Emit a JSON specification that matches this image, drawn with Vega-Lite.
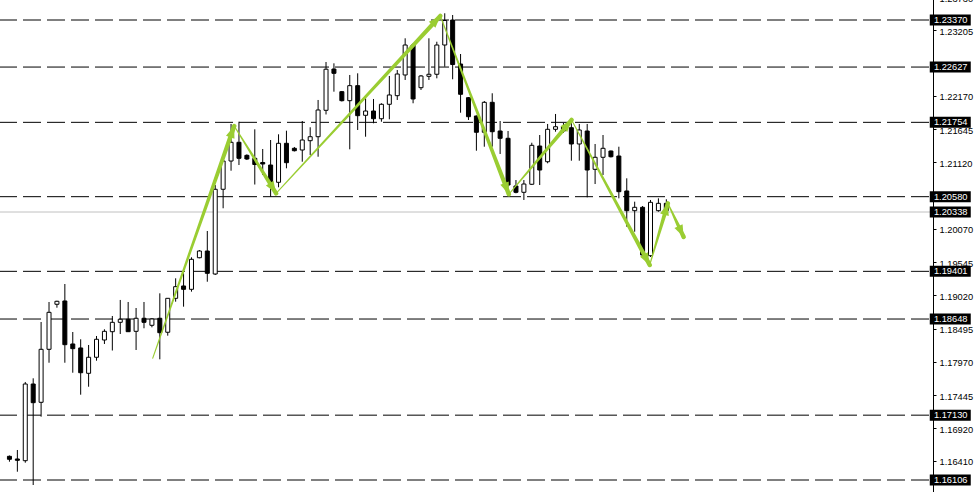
{
  "$schema": "https://vega.github.io/schema/vega-lite/v6.json",
  "width": 933,
  "height": 504,
  "autosize": {"type": "none"},
  "padding": {"left": 0, "top": -6, "right": 47, "bottom": 0},
  "background": "white",
  "config": {"view": {"stroke": null}},
  "datasets": {
    "levels": [
      {"level": 1.2337, "type": "line"},
      {"level": 1.22627, "type": "line"},
      {"level": 1.21754, "type": "line"},
      {"level": 1.2058, "type": "line"},
      {"level": 1.20338, "type": "bid"},
      {"level": 1.19401, "type": "line"},
      {"level": 1.18648, "type": "line"},
      {"level": 1.1713, "type": "line"},
      {"level": 1.16106, "type": "line"}
    ],
    "candles": [
      {"i": 0, "o": 1.16480, "h": 1.16493, "l": 1.16395, "c": 1.16433},
      {"i": 1, "o": 1.16438, "h": 1.16580, "l": 1.16237, "c": 1.16417},
      {"i": 2, "o": 1.16411, "h": 1.17654, "l": 1.16379, "c": 1.17622},
      {"i": 3, "o": 1.17622, "h": 1.17712, "l": 1.16027, "c": 1.17327},
      {"i": 4, "o": 1.17333, "h": 1.18601, "l": 1.17106, "c": 1.18170},
      {"i": 5, "o": 1.18170, "h": 1.18917, "l": 1.17958, "c": 1.18754},
      {"i": 6, "o": 1.18881, "h": 1.18937, "l": 1.18827, "c": 1.18928},
      {"i": 7, "o": 1.18933, "h": 1.19201, "l": 1.17958, "c": 1.18243},
      {"i": 8, "o": 1.18254, "h": 1.18443, "l": 1.17800, "c": 1.18180},
      {"i": 9, "o": 1.18191, "h": 1.18328, "l": 1.17453, "c": 1.17800},
      {"i": 10, "o": 1.17791, "h": 1.18238, "l": 1.17579, "c": 1.18044},
      {"i": 11, "o": 1.18044, "h": 1.18380, "l": 1.17990, "c": 1.18328},
      {"i": 12, "o": 1.18317, "h": 1.18486, "l": 1.18254, "c": 1.18454},
      {"i": 13, "o": 1.18448, "h": 1.18696, "l": 1.18151, "c": 1.18596},
      {"i": 14, "o": 1.18596, "h": 1.18949, "l": 1.18412, "c": 1.18644},
      {"i": 15, "o": 1.18644, "h": 1.18917, "l": 1.18448, "c": 1.18448},
      {"i": 16, "o": 1.18454, "h": 1.18822, "l": 1.18159, "c": 1.18660},
      {"i": 17, "o": 1.18660, "h": 1.18917, "l": 1.18502, "c": 1.18596},
      {"i": 18, "o": 1.18549, "h": 1.18660, "l": 1.18517, "c": 1.18649},
      {"i": 19, "o": 1.18660, "h": 1.19054, "l": 1.18012, "c": 1.18432},
      {"i": 20, "o": 1.18439, "h": 1.18975, "l": 1.18385, "c": 1.18975},
      {"i": 21, "o": 1.18975, "h": 1.19291, "l": 1.18922, "c": 1.19159},
      {"i": 22, "o": 1.19170, "h": 1.19370, "l": 1.18843, "c": 1.19117},
      {"i": 23, "o": 1.19117, "h": 1.19623, "l": 1.19080, "c": 1.19591},
      {"i": 24, "o": 1.19616, "h": 1.19738, "l": 1.19607, "c": 1.19722},
      {"i": 25, "o": 1.19722, "h": 1.20038, "l": 1.19237, "c": 1.19370},
      {"i": 26, "o": 1.19359, "h": 1.20764, "l": 1.19343, "c": 1.20697},
      {"i": 27, "o": 1.20697, "h": 1.21211, "l": 1.20397, "c": 1.21143},
      {"i": 28, "o": 1.21143, "h": 1.21728, "l": 1.20990, "c": 1.21439},
      {"i": 29, "o": 1.21439, "h": 1.21764, "l": 1.21080, "c": 1.21186},
      {"i": 30, "o": 1.21233, "h": 1.21249, "l": 1.21159, "c": 1.21175},
      {"i": 31, "o": 1.21186, "h": 1.21644, "l": 1.20772, "c": 1.21088},
      {"i": 32, "o": 1.21120, "h": 1.21333, "l": 1.20922, "c": 1.21096},
      {"i": 33, "o": 1.21080, "h": 1.21475, "l": 1.20580, "c": 1.20812},
      {"i": 34, "o": 1.20807, "h": 1.21565, "l": 1.20728, "c": 1.21423},
      {"i": 35, "o": 1.21423, "h": 1.21622, "l": 1.21028, "c": 1.21117},
      {"i": 36, "o": 1.21344, "h": 1.21365, "l": 1.21294, "c": 1.21306},
      {"i": 37, "o": 1.21317, "h": 1.21775, "l": 1.21132, "c": 1.21475},
      {"i": 38, "o": 1.21464, "h": 1.21676, "l": 1.21238, "c": 1.21527},
      {"i": 39, "o": 1.21527, "h": 1.22107, "l": 1.21211, "c": 1.21949},
      {"i": 40, "o": 1.21944, "h": 1.22707, "l": 1.21878, "c": 1.22593},
      {"i": 41, "o": 1.22596, "h": 1.22686, "l": 1.22238, "c": 1.22528},
      {"i": 42, "o": 1.22238, "h": 1.22249, "l": 1.22083, "c": 1.22096},
      {"i": 43, "o": 1.22096, "h": 1.22502, "l": 1.21328, "c": 1.22333},
      {"i": 44, "o": 1.22333, "h": 1.22528, "l": 1.21633, "c": 1.21859},
      {"i": 45, "o": 1.21865, "h": 1.22134, "l": 1.21527, "c": 1.21933},
      {"i": 46, "o": 1.21933, "h": 1.22123, "l": 1.21739, "c": 1.21811},
      {"i": 47, "o": 1.21811, "h": 1.22055, "l": 1.21764, "c": 1.22039},
      {"i": 48, "o": 1.22039, "h": 1.22486, "l": 1.21802, "c": 1.22186},
      {"i": 49, "o": 1.22175, "h": 1.22580, "l": 1.22107, "c": 1.22517},
      {"i": 50, "o": 1.22502, "h": 1.23081, "l": 1.22423, "c": 1.22975},
      {"i": 51, "o": 1.22975, "h": 1.23002, "l": 1.22055, "c": 1.22123},
      {"i": 52, "o": 1.22301, "h": 1.22502, "l": 1.22265, "c": 1.22486},
      {"i": 53, "o": 1.22481, "h": 1.23081, "l": 1.22423, "c": 1.22513},
      {"i": 54, "o": 1.22513, "h": 1.23027, "l": 1.22449, "c": 1.22975},
      {"i": 55, "o": 1.22975, "h": 1.23476, "l": 1.22633, "c": 1.23362},
      {"i": 56, "o": 1.23370, "h": 1.23449, "l": 1.22434, "c": 1.22667},
      {"i": 57, "o": 1.22675, "h": 1.22833, "l": 1.21906, "c": 1.22197},
      {"i": 58, "o": 1.22143, "h": 1.22154, "l": 1.21791, "c": 1.21843},
      {"i": 59, "o": 1.21854, "h": 1.21862, "l": 1.21306, "c": 1.21597},
      {"i": 60, "o": 1.21597, "h": 1.22091, "l": 1.21369, "c": 1.22070},
      {"i": 61, "o": 1.22070, "h": 1.22213, "l": 1.21369, "c": 1.21606},
      {"i": 62, "o": 1.21617, "h": 1.21775, "l": 1.21254, "c": 1.21502},
      {"i": 63, "o": 1.21502, "h": 1.21617, "l": 1.20738, "c": 1.20764},
      {"i": 64, "o": 1.20749, "h": 1.20843, "l": 1.20633, "c": 1.20649},
      {"i": 65, "o": 1.20649, "h": 1.20843, "l": 1.20528, "c": 1.20780},
      {"i": 66, "o": 1.20776, "h": 1.21432, "l": 1.20764, "c": 1.21391},
      {"i": 67, "o": 1.21380, "h": 1.21554, "l": 1.20764, "c": 1.21001},
      {"i": 68, "o": 1.21132, "h": 1.21728, "l": 1.21107, "c": 1.21644},
      {"i": 69, "o": 1.21644, "h": 1.21886, "l": 1.21606, "c": 1.21685},
      {"i": 70, "o": 1.21680, "h": 1.21744, "l": 1.21586, "c": 1.21617},
      {"i": 71, "o": 1.21669, "h": 1.21818, "l": 1.21148, "c": 1.21412},
      {"i": 72, "o": 1.21412, "h": 1.21728, "l": 1.21148, "c": 1.21633},
      {"i": 73, "o": 1.21617, "h": 1.21728, "l": 1.20570, "c": 1.21001},
      {"i": 74, "o": 1.21012, "h": 1.21412, "l": 1.20780, "c": 1.21202},
      {"i": 75, "o": 1.21202, "h": 1.21554, "l": 1.20922, "c": 1.21344},
      {"i": 76, "o": 1.21301, "h": 1.21309, "l": 1.21199, "c": 1.21211},
      {"i": 77, "o": 1.21222, "h": 1.21369, "l": 1.20554, "c": 1.20659},
      {"i": 78, "o": 1.20670, "h": 1.20870, "l": 1.20106, "c": 1.20359},
      {"i": 79, "o": 1.20359, "h": 1.20501, "l": 1.20027, "c": 1.20412},
      {"i": 80, "o": 1.20412, "h": 1.20433, "l": 1.19628, "c": 1.19659},
      {"i": 81, "o": 1.19648, "h": 1.20528, "l": 1.19628, "c": 1.20491},
      {"i": 82, "o": 1.20359, "h": 1.20554, "l": 1.20343, "c": 1.20475},
      {"i": 83, "o": 1.20475, "h": 1.20539, "l": 1.20343, "c": 1.20360}
    ],
    "arrows": [
      {"arrow": 1, "pos": 0, "t": 18.10, "price": 1.18028, "heading": 19.5},
      {"arrow": 1, "pos": 1, "t": 28.40, "price": 1.21696, "heading": 19.5},
      {"arrow": 2, "pos": 0, "t": 28.40, "price": 1.21696, "heading": 147.9},
      {"arrow": 2, "pos": 1, "t": 33.69, "price": 1.20633, "heading": 147.9},
      {"arrow": 3, "pos": 0, "t": 33.69, "price": 1.20633, "heading": 42.9},
      {"arrow": 3, "pos": 1, "t": 54.44, "price": 1.23433, "heading": 42.9},
      {"arrow": 4, "pos": 0, "t": 54.44, "price": 1.23433, "heading": 159.0},
      {"arrow": 4, "pos": 1, "t": 63.10, "price": 1.20618, "heading": 159.0},
      {"arrow": 5, "pos": 0, "t": 63.10, "price": 1.20618, "heading": 40.5},
      {"arrow": 5, "pos": 1, "t": 71.03, "price": 1.21791, "heading": 40.5},
      {"arrow": 6, "pos": 0, "t": 71.03, "price": 1.21791, "heading": 151.4},
      {"arrow": 6, "pos": 1, "t": 80.90, "price": 1.19501, "heading": 151.4},
      {"arrow": 7, "pos": 0, "t": 80.90, "price": 1.19501, "heading": 16.5},
      {"arrow": 7, "pos": 1, "t": 83.19, "price": 1.20475, "heading": 16.5},
      {"arrow": 8, "pos": 0, "t": 83.19, "price": 1.20475, "heading": 154.6},
      {"arrow": 8, "pos": 1, "t": 85.19, "price": 1.19943, "heading": 154.6}
    ]
  },
  "layer": [
    {
      "data": {"name": "levels"},
      "transform": [{"filter": "datum.type == 'line'"}],
      "mark": {"type": "rule", "color": "black", "strokeWidth": 1, "strokeDash": [18, 6], "strokeDashOffset": 20},
      "encoding": {
        "y": {
          "field": "level", "type": "quantitative", "title": null,
          "scale": {"domain": [1.158218, 1.237806], "nice": false, "zero": false},
          "axis": {
            "orient": "right",
            "values": [1.2373, 1.23205, 1.2217, 1.21645, 1.2112, 1.2007, 1.19545, 1.1902, 1.18495, 1.1797, 1.17445, 1.1692, 1.1641, 1.15885],
            "tickCount": 40,
            "format": ".5f", "title": null, "grid": false,
            "domainColor": "black", "domainWidth": 1,
            "tickColor": "black", "tickSize": 3, "tickWidth": 1,
            "labelPadding": 3, "labelColor": "black",
            "labelFont": "Liberation Sans", "labelFontSize": 9.3,
            "labelOverlap": false, "labelBound": false, "labelOffset": 1, "zindex": 0
          }
        }
      }
    },
    {
      "data": {"name": "levels"},
      "transform": [{"filter": "datum.type == 'bid'"}],
      "mark": {"type": "rule", "color": "#C0C0C0", "strokeWidth": 1},
      "encoding": {"y": {"field": "level", "type": "quantitative", "title": null}}
    },
    {
      "data": {"name": "candles"},
      "mark": {"type": "rule", "color": "black", "strokeWidth": 1},
      "encoding": {
        "x": {"field": "i", "type": "quantitative", "axis": null, "scale": {"domain": [-0.5625, 116.0625], "nice": false, "zero": false}},
        "y": {"field": "l", "type": "quantitative", "title": null},
        "y2": {"field": "h"}
      }
    },
    {
      "data": {"name": "candles"},
      "mark": {"type": "bar", "width": 4, "stroke": "black", "strokeWidth": 1},
      "encoding": {
        "x": {"field": "i", "type": "quantitative", "axis": null},
        "y": {"field": "o", "type": "quantitative", "title": null},
        "y2": {"field": "c"},
        "fill": {"condition": {"test": "datum.c > datum.o", "value": "white"}, "value": "black"}
      }
    },
    {
      "data": {"name": "arrows"},
      "mark": {"type": "trail", "color": "#9ACD32"},
      "encoding": {
        "x": {"field": "t", "type": "quantitative", "axis": null},
        "y": {"field": "price", "type": "quantitative", "title": null},
        "detail": {"field": "arrow", "type": "nominal"},
        "order": {"field": "pos", "type": "quantitative"},
        "size": {"field": "pos", "type": "quantitative", "legend": null, "scale": {"domain": [0, 1], "range": [1, 4.5]}}
      }
    },
    {
      "data": {"name": "arrows"},
      "transform": [{"filter": "datum.pos == 1"}],
      "mark": {"type": "point", "shape": "M0,0L0.75,2L-0.75,2Z", "size": 144, "filled": true, "color": "#9ACD32", "opacity": 1, "strokeWidth": 0},
      "encoding": {
        "x": {"field": "t", "type": "quantitative", "axis": null},
        "y": {"field": "price", "type": "quantitative", "title": null},
        "angle": {"field": "heading", "type": "quantitative", "scale": null}
      }
    },
    {
      "data": {"name": "levels"},
      "mark": {"type": "tick", "orient": "horizontal", "size": 41, "thickness": 11, "color": "black", "opacity": 1},
      "encoding": {
        "x": {"datum": 118.875, "type": "quantitative", "axis": null},
        "y": {"field": "level", "type": "quantitative", "title": null}
      }
    },
    {
      "data": {"name": "levels"},
      "mark": {"type": "text", "align": "left", "baseline": "middle", "color": "white", "font": "Liberation Sans", "fontSize": 9.3},
      "encoding": {
        "x": {"datum": 116.8125, "type": "quantitative", "axis": null},
        "y": {"field": "level", "type": "quantitative", "title": null},
        "text": {"field": "level", "type": "quantitative", "format": ".5f"}
      }
    }
  ]
}
